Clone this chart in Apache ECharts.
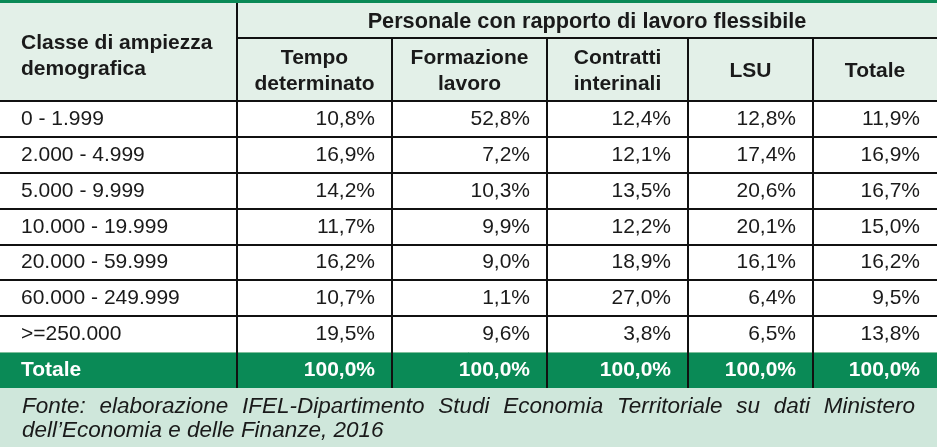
<!DOCTYPE html>
<html>
<head>
<meta charset="utf-8">
<script src="https://cdn.jsdelivr.net/npm/echarts@6/dist/echarts.min.js"></script>
<style>
  html, body { margin: 0; padding: 0; background: #fff; }
  #tab_chart { width: 937px; height: 447px; }
</style>
</head>
<body>
<div id="tab_chart"></div>
<script>
  // dati della tabella
  var groupTitle = 'Personale con rapporto di lavoro flessibile'
  var firstHeader = ['Classe di ampiezza', 'demografica']
  var columns = [['Tempo', 'determinato'], ['Formazione', 'lavoro'], ['Contratti', 'interinali'], ['LSU'], ['Totale']]
  var classes = ['0 - 1.999', '2.000 - 4.999', '5.000 - 9.999', '10.000 - 19.999', '20.000 - 59.999', '60.000 - 249.999', '>=250.000']
  var tempoDeterminato = [10.8, 16.9, 14.2, 11.7, 16.2, 10.7, 19.5]
  var formazioneLavoro = [52.8, 7.2, 10.3, 9.9, 9.0, 1.1, 9.6]
  var contrattiInterinali = [12.4, 12.1, 13.5, 12.2, 18.9, 27.0, 3.8]
  var lsu = [12.8, 17.4, 20.6, 20.1, 16.1, 6.4, 6.5]
  var totale = [11.9, 16.9, 16.7, 15.0, 16.2, 9.5, 13.8]
  var totalLabel = 'Totale'
  var totalRow = [100, 100, 100, 100, 100]
  var source = ['Fonte: elaborazione IFEL-Dipartimento Studi Economia Territoriale su dati Ministero',
    'dell\u2019Economia e delle Finanze, 2016']

  var series = [tempoDeterminato, formazioneLavoro, contrattiInterinali, lsu, totale]

  // layout
  var W = 937
  var colX = [0, 237, 392, 547, 688, 813, 937]
  var rowY = [101, 137, 173, 209, 245, 280, 316, 352]
  var totY = 352
  var totH = 36
  var green = '#0a8a56'
  var headBg = '#e3f0e8'
  var footBg = '#cfe7db'
  var ff = '"Liberation Sans", Arial, sans-serif'
  var fontBody = '21px ' + ff
  var fontBold = 'bold 21px ' + ff
  var fontTitle = 'bold 21.7px ' + ff
  var fontFoot = 'italic 22.5px ' + ff

  function fmt (v) {
    return v.toFixed(1).replace('.', ',') + '%'
  }

  var els = []
  function rect (x, y, w, h, fill) {
    els.push({type: 'rect', shape: {x: x, y: y, width: w, height: h}, style: {fill: fill}, silent: true})
  }
  function line (x1, y1, x2, y2, stroke, lw) {
    els.push({type: 'line', shape: {x1: x1, y1: y1, x2: x2, y2: y2}, style: {stroke: stroke, lineWidth: lw}, silent: true})
  }
  function text (str, x, y, align, font, color) {
    els.push({type: 'text', x: x, y: y, silent: true,
      style: {text: str, align: align, verticalAlign: 'middle', font: font, fill: color}})
  }

  // sfondi
  rect(0, 0, W, 101, headBg)
  rect(0, 0, W, 3, green)
  rect(0, totY, W, totH, green)
  rect(0, totY + totH, W, 447 - totY - totH, footBg)

  // linee orizzontali
  line(colX[1], 38, W, 38, '#111', 2)
  for (var r = 0; r < rowY.length - 1; r++) {
    line(0, rowY[r], W, rowY[r], '#111', 2)
  }
  line(0, totY + 0.5, W, totY + 0.5, '#7fbf9c', 1)

  // linee verticali
  line(colX[1], 3, colX[1], totY + totH, '#111', 2)
  for (var c = 2; c < colX.length - 1; c++) {
    line(colX[c], 38, colX[c], totY + totH, '#111', 2)
  }

  // intestazioni
  text(groupTitle, (colX[1] + W) / 2, 22, 'center', fontTitle, '#1a1a1a')
  text(firstHeader[0], 21, 43, 'left', fontBold, '#1a1a1a')
  text(firstHeader[1], 21, 69, 'left', fontBold, '#1a1a1a')
  columns.forEach(function (lab, i) {
    var cx = (colX[i + 1] + colX[i + 2]) / 2
    if (lab.length === 2) {
      text(lab[0], cx, 58, 'center', fontBold, '#1a1a1a')
      text(lab[1], cx, 84, 'center', fontBold, '#1a1a1a')
    } else {
      text(lab[0], cx, 71, 'center', fontBold, '#1a1a1a')
    }
  })

  // righe
  classes.forEach(function (name, r) {
    var cy = (rowY[r] + rowY[r + 1]) / 2
    text(name, 21, cy, 'left', fontBody, '#1a1a1a')
    series.forEach(function (vals, i) {
      text(fmt(vals[r]), colX[i + 2] - 17, cy, 'right', fontBody, '#1a1a1a')
    })
  })

  // totale
  text(totalLabel, 21, totY + totH / 2, 'left', fontBold, '#fff')
  totalRow.forEach(function (v, i) {
    text(fmt(v), colX[i + 2] - 17, totY + totH / 2, 'right', fontBold, '#fff')
  })

  // fonte (prima riga giustificata)
  var ctx = document.createElement('canvas').getContext('2d')
  ctx.font = fontFoot
  var words = source[0].split(' ')
  var left = 22
  var right = 915
  var sumW = 0
  words.forEach(function (w) { sumW += ctx.measureText(w).width })
  var gap = (right - left - sumW) / (words.length - 1)
  var xx = left
  words.forEach(function (w) {
    text(w, xx, 407, 'left', fontFoot, '#1a1a1a')
    xx += ctx.measureText(w).width + gap
  })
  text(source[1], left, 431, 'left', fontFoot, '#1a1a1a')

  var chart = echarts.init(document.getElementById('tab_chart'))
  chart.setOption({
    animation: false,
    graphic: {elements: els}
  })
</script>
</body>
</html>
